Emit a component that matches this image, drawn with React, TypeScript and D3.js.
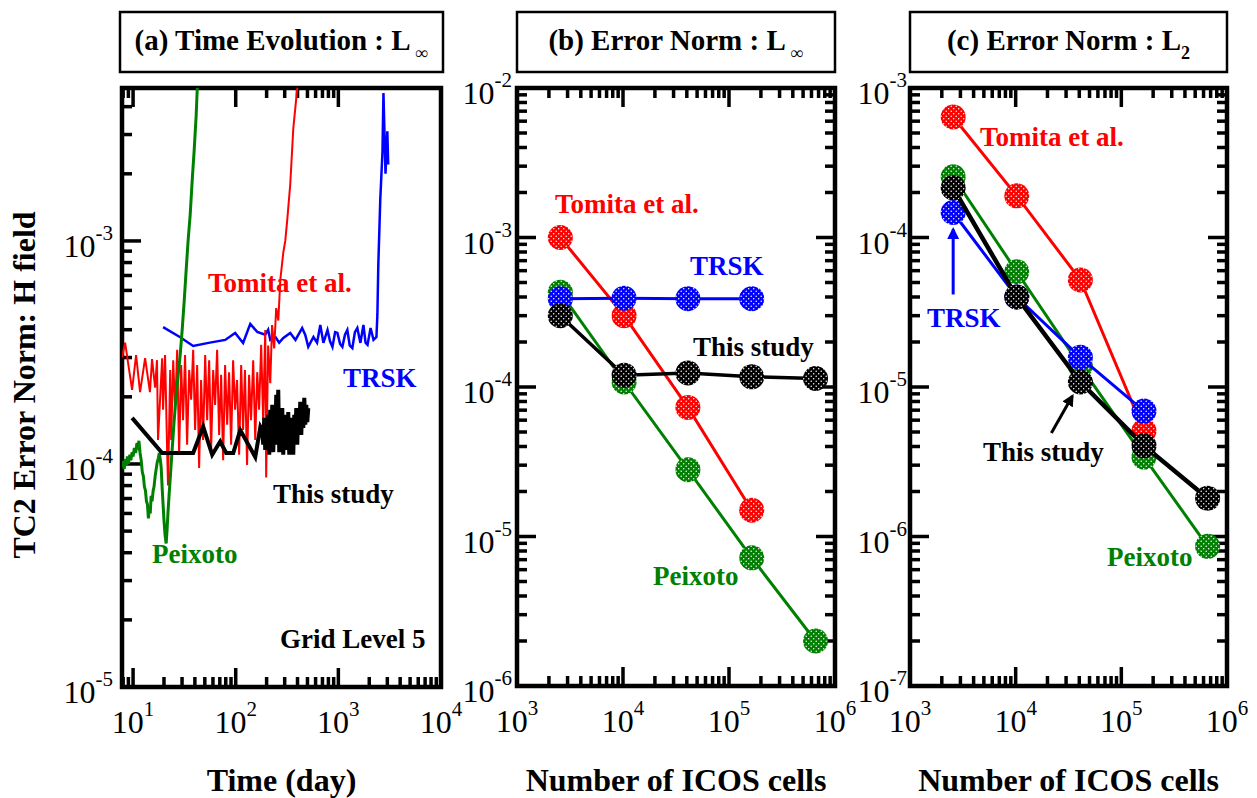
import { useEffect, useRef } from 'react';
import * as d3 from 'd3';

type Pt = [number, number];

const RED = '#ff0000';
const BLUE = '#0000ff';
const GREEN = '#008000';
const BLACK = '#000000';

// number of ICOS cells, grid levels 4-8
const icosCells = [2562, 10242, 40962, 163842, 655362];

// (b) L-infinity error norm
const linfTomita = [1.0e-3, 3.0e-4, 7.3e-5, 1.5e-5];
const linfTrsk = [3.9e-4, 3.93e-4, 3.9e-4, 3.9e-4];
const linfThis = [3.0e-4, 1.2e-4, 1.24e-4, 1.17e-4, 1.14e-4];
const linfPeixoto = [4.3e-4, 1.08e-4, 2.8e-5, 7.2e-6, 2.0e-6];

// (c) L2 error norm
const l2Tomita = [6.4e-4, 1.9e-4, 5.2e-5, 5.1e-6];
const l2Trsk = [1.47e-4, 4.0e-5, 1.58e-5, 6.9e-6];
const l2This = [2.15e-4, 4.0e-5, 1.08e-5, 4.05e-6, 1.8e-6];
const l2Peixoto = [2.55e-4, 5.9e-5, 1.38e-5, 3.4e-6, 8.6e-7];

// (a) time evolution at grid level 5, [day, L-inf error]
const peixotoTime: Pt[] = [
  [7.8, 9.7e-5], [8.0, 1.03e-4], [8.2, 9.5e-5], [8.4, 1.05e-4], [8.6, 9.8e-5], [8.8, 1.08e-4],
  [9.0, 1.0e-4], [9.3, 1.1e-4], [9.5, 1.04e-4], [9.8, 1.13e-4], [10.0, 1.08e-4], [10.3, 1.18e-4],
  [10.6, 1.12e-4], [10.9, 1.24e-4], [11.2, 1.2e-4], [11.4, 1.27e-4], [11.7, 1.12e-4], [12.0, 1.04e-4],
  [12.3, 9.2e-5], [12.6, 8.8e-5], [12.9, 7.9e-5], [13.2, 7.6e-5], [13.5, 6.8e-5], [13.8, 6.6e-5],
  [14.1, 5.7e-5], [14.4, 6.3e-5], [14.7, 6.0e-5], [15.0, 7.2e-5], [15.3, 6.8e-5], [15.7, 7.6e-5],
  [16.0, 7.9e-5], [16.4, 8.8e-5], [16.8, 9.5e-5], [17.2, 1.02e-4], [17.6, 1.06e-4], [18.0, 1.12e-4],
  [18.4, 1.05e-4], [18.8, 9.6e-5], [19.2, 7.8e-5], [19.6, 6.6e-5], [20.0, 5.6e-5], [20.5, 4.8e-5],
  [21.0, 4.4e-5], [21.4, 5.0e-5], [21.9, 6.1e-5], [22.5, 7.4e-5], [23.0, 8.6e-5], [24.0, 1.15e-4],
  [25.1, 1.55e-4], [26.3, 2.05e-4], [27.5, 2.5e-4], [28.8, 3.1e-4], [30.1, 4.0e-4], [31.5, 5.4e-4],
  [32.9, 7.4e-4], [34.4, 1.01e-3], [36.0, 1.31e-3], [37.7, 1.88e-3], [39.4, 2.56e-3], [41.2, 3.67e-3],
  [42.1, 4.7e-3], [43.1, 5.6e-3],
];

const tomitaTime: Pt[] = [
  [7.8, 3.0e-4], [8.36, 3.5e-4], [9.78, 2.15e-4], [10.7, 3.08e-4], [11.7, 2.1e-4], [13.1, 2.98e-4],
  [14.6, 2.1e-4], [15.3, 2.95e-4], [16.4, 2.2e-4], [17.1, 2.92e-4], [17.5, 1.28e-4], [19.2, 2.98e-4],
  [19.6, 1.75e-4], [20.5, 3.08e-4], [21.5, 1.12e-4], [21.9, 8.0e-5], [23.0, 2.64e-4],
  [23.5, 1.28e-4], [24.6, 2.92e-4], [25.7, 1.75e-4], [26.9, 3.25e-4], [28.1, 1.1e-4], [29.4, 2.78e-4],
  [30.7, 1.57e-4], [32.1, 3.08e-4], [33.6, 1.22e-4], [35.2, 2.64e-4], [36.8, 1.94e-4], [38.5, 3.25e-4],
  [40.2, 1.42e-4], [42.1, 2.78e-4], [44.0, 9.6e-5], [46.0, 2.38e-4], [48.1, 1.28e-4], [50.4, 3.08e-4],
  [52.7, 1.57e-4], [55.1, 2.92e-4], [57.6, 1.155e-4], [60.3, 2.64e-4], [63.0, 1.84e-4], [65.9, 3.25e-4],
  [68.9, 1.35e-4], [72.1, 2.51e-4], [75.4, 1.04e-4], [78.8, 2.78e-4], [82.5, 1.5e-4], [86.2, 2.58e-4],
  [90.2, 1.22e-4], [94.3, 2.92e-4], [98.6, 1.75e-4], [103, 2.38e-4], [108, 1.1e-4], [113, 2.78e-4],
  [118, 1.42e-4], [123, 2.64e-4], [129, 9.9e-5], [135, 2.51e-4], [141, 1.57e-4], [148, 2.92e-4],
  [155, 1.28e-4], [162, 2.58e-4], [169, 1.75e-4], [177, 3.42e-4], [185, 1.57e-4], [194, 3.99e-4],
  [198, 8.7e-5], [207, 3.4e-4], [217, 2.3e-4], [226, 4.2e-4], [237, 3.3e-4], [248, 5.0e-4],
  [260, 4.4e-4], [272, 6.7e-4], [291, 8.9e-4], [304, 1.0e-3], [318, 1.25e-3], [340, 1.8e-3],
  [364, 3.2e-3], [398, 4.85e-3], [426, 6.0e-3],
];

const trskTime: Pt[] = [
  [19.6, 4.11e-4], [28.8, 3.7e-4], [38.5, 3.38e-4], [56, 3.5e-4], [79, 3.6e-4], [98.8, 3.87e-4],
  [118, 3.49e-4], [138.6, 4.25e-4], [162, 3.91e-4], [194, 3.8e-4], [207, 4.0e-4], [217, 3.6e-4],
  [245, 3.7e-4], [265, 3.5e-4], [291, 3.67e-4], [340, 3.87e-4], [382, 3.6e-4], [444, 4.07e-4],
  [476, 3.79e-4], [509, 3.35e-4], [572, 3.71e-4], [620, 3.5e-4], [667, 4.2e-4], [715, 3.49e-4],
  [784, 3.99e-4], [830, 3.55e-4], [876, 3.35e-4], [930, 3.9e-4], [979, 3.87e-4], [1040, 3.45e-4],
  [1094, 3.35e-4], [1160, 3.8e-4], [1223, 3.99e-4], [1290, 3.4e-4], [1368, 3.31e-4], [1450, 3.9e-4],
  [1530, 4.07e-4], [1640, 3.49e-4], [1755, 4.2e-4], [1840, 3.5e-4], [1924, 3.42e-4], [2060, 4.07e-4],
  [2200, 3.6e-4], [2350, 3.71e-4], [2400, 4.66e-4], [2450, 7.8e-4], [2560, 1.53e-3], [2690, 2.51e-3],
  [2750, 4.6e-3], [2880, 2.0e-3], [3000, 3.1e-3], [3060, 2.2e-3],
];

const thisTime: Pt[] = [
  [9.78, 1.61e-4], [19.2, 1.12e-4], [38.5, 1.12e-4], [48.2, 1.47e-4], [59.0, 1.1e-4], [70.6, 1.26e-4],
  [80.8, 1.12e-4], [94.6, 1.12e-4], [110.7, 1.42e-4], [155, 1.075e-4], [174, 1.47e-4],
  [181.3, 1.42e-4], [185.4, 1.22e-4], [189.6, 1.61e-4], [193.9, 1.155e-4], [198.3, 1.5e-4],
  [202.8, 1.24e-4], [207.4, 1.66e-4], [212.1, 1.1e-4], [216.9, 1.75e-4], [221.9, 1.18e-4],
  [226.9, 1.84e-4], [232.1, 1.13e-4], [237.3, 1.57e-4], [242.7, 1.22e-4], [248.2, 2.04e-4],
  [253.9, 1.28e-4], [259.6, 2.15e-4], [265.5, 1.13e-4], [271.6, 1.66e-4], [277.7, 1.19e-4],
  [284.0, 1.78e-4], [290.5, 1.1e-4], [297.1, 1.57e-4], [303.8, 1.155e-4], [310.7, 1.66e-4],
  [317.8, 1.22e-4], [325.0, 1.71e-4], [332.4, 1.1e-4], [339.9, 1.61e-4], [347.6, 1.19e-4],
  [355.5, 1.57e-4], [363.6, 1.1e-4], [371.9, 1.66e-4], [380.3, 1.28e-4], [389.0, 1.78e-4],
  [397.8, 1.22e-4], [406.8, 1.75e-4], [416.1, 1.42e-4], [425.5, 1.9e-4], [435.2, 1.35e-4],
  [445.0, 1.84e-4], [455.2, 1.45e-4], [465.5, 1.98e-4], [476.1, 1.5e-4], [486.9, 1.84e-4],
  [498.0, 1.54e-4], [509.3, 1.78e-4],
];

// tick label exponents
const timeTickExps = [1, 2, 3, 4];
const cellTickExps = [3, 4, 5, 6];
const errTickExpsA = [-5, -4, -3];
const errTickExpsB = [-6, -5, -4, -3, -2];
const errTickExpsC = [-7, -6, -5, -4, -3];

const FONT = "'Liberation Serif', 'Times New Roman', serif";

const logTicks = (lo: number, hi: number) => {
  const major: number[] = [];
  const minor: number[] = [];
  for (let k = Math.floor(Math.log10(lo)); k <= Math.ceil(Math.log10(hi)); k++) {
    for (let j = 1; j <= 9; j++) {
      const v = j * Math.pow(10, k);
      if (v < lo * 0.999 || v > hi * 1.001) continue;
      (j === 1 ? major : minor).push(v);
    }
  }
  return { major, minor };
};

const App = () => {
  const ref = useRef<SVGSVGElement>(null);

  useEffect(() => {
    const svg = d3.select(ref.current);
    svg.selectAll('*').remove();

    const defs = svg.append('defs');
    [['red', RED], ['blue', BLUE], ['green', GREEN], ['black', BLACK]].forEach(([name, c]) => {
      const p = defs.append('pattern')
        .attr('id', `dots-${name}`)
        .attr('patternUnits', 'userSpaceOnUse')
        .attr('width', 5).attr('height', 5);
      p.append('rect').attr('width', 5).attr('height', 5).attr('fill', c);
      p.append('circle').attr('cx', 1.2).attr('cy', 1.2).attr('r', 0.75).attr('fill', '#fff');
      p.append('circle').attr('cx', 3.7).attr('cy', 3.7).attr('r', 0.75).attr('fill', '#fff');
    });
    [['blue', BLUE], ['black', BLACK]].forEach(([name, c]) => {
      defs.append('marker')
        .attr('id', `arrow-${name}`)
        .attr('viewBox', '0 0 10 10')
        .attr('refX', 8).attr('refY', 5)
        .attr('markerUnits', 'userSpaceOnUse')
        .attr('markerWidth', 12).attr('markerHeight', 12)
        .attr('orient', 'auto')
        .append('path').attr('d', 'M0,0 L10,5 L0,10 Z').attr('fill', c);
    });

    const label = (x: number, y: number, txt: string, color: string, anchor = 'start') =>
      svg.append('text')
        .attr('x', x).attr('y', y)
        .attr('text-anchor', anchor)
        .attr('font-family', FONT).attr('font-weight', 'bold').attr('font-size', 27)
        .attr('fill', color)
        .text(txt);

    const panel = (o: {
      x0: number; x1: number; y0: number; y1: number;
      xDom: number[]; yDom: number[];
      xExps: number[]; yExps: number[]; labelGap: number;
      topFilter?: (v: number) => boolean; right: boolean;
    }) => {
      const x = d3.scaleLog().domain(o.xDom).range([o.x0, o.x1]);
      const y = d3.scaleLog().domain(o.yDom).range([o.y1, o.y0]);
      const g = svg.append('g');
      const xt = logTicks(o.xDom[0], o.xDom[1]);
      const yt = logTicks(o.yDom[0], o.yDom[1]);
      const tick = (x1: number, y1: number, x2: number, y2: number) =>
        g.append('line').attr('x1', x1).attr('y1', y1).attr('x2', x2).attr('y2', y2)
          .attr('stroke', BLACK).attr('stroke-width', 3.5);
      const MAJ = 19, MIN = 10;
      [...xt.major.map(v => [v, MAJ]), ...xt.minor.map(v => [v, MIN])].forEach(([v, len]) => {
        tick(x(v), o.y1, x(v), o.y1 - len);
        if (!o.topFilter || o.topFilter(v)) tick(x(v), o.y0, x(v), o.y0 + len);
      });
      [...yt.major.map(v => [v, MAJ]), ...yt.minor.map(v => [v, MIN])].forEach(([v, len]) => {
        tick(o.x0, y(v), o.x0 + len, y(v));
        if (o.right) tick(o.x1, y(v), o.x1 - len, y(v));
      });
      g.append('rect')
        .attr('x', o.x0).attr('y', o.y0)
        .attr('width', o.x1 - o.x0).attr('height', o.y1 - o.y0)
        .attr('fill', 'none').attr('stroke', BLACK).attr('stroke-width', 4.5);

      o.xExps.forEach(e => {
        const t = g.append('text')
          .attr('x', x(Math.pow(10, e))).attr('y', o.y1 + 46)
          .attr('text-anchor', 'middle')
          .attr('font-family', FONT).attr('font-size', 32).text('10');
        t.append('tspan').attr('dy', -17).attr('font-size', 21).text(String(e));
      });
      o.yExps.forEach(e => {
        const t = g.append('text')
          .attr('x', o.x0 - o.labelGap).attr('y', y(Math.pow(10, e)) + 16)
          .attr('text-anchor', 'end')
          .attr('font-family', FONT).attr('font-size', 32).text('10');
        t.append('tspan').attr('dy', -17).attr('font-size', 21).text(String(e));
      });
      return { x, y };
    };

    const title = (x0: number, x1: number, main: string, sub: string, gap: number) => {
      svg.append('rect')
        .attr('x', x0).attr('y', 12).attr('width', x1 - x0).attr('height', 60)
        .attr('fill', 'none').attr('stroke', BLACK).attr('stroke-width', 2.5);
      const t = svg.append('text')
        .attr('x', (x0 + x1) / 2).attr('y', 50)
        .attr('text-anchor', 'middle')
        .attr('font-family', FONT).attr('font-weight', 'bold').attr('font-size', 29)
        .text(main);
      t.append('tspan').attr('dx', gap).attr('dy', 9).attr('font-size', 18).text(sub);
    };

    const cellSeries = (p: { x: any; y: any }, vals: number[], color: string, name: string, width: number) => {
      const pts: Pt[] = vals.map((v, i) => [icosCells[i], v]);
      svg.append('path')
        .datum(pts)
        .attr('fill', 'none').attr('stroke', color).attr('stroke-width', width)
        .attr('d', d3.line<Pt>().x(d => p.x(d[0])).y(d => p.y(d[1])));
      svg.selectAll(null)
        .data(pts).enter().append('circle')
        .attr('cx', d => p.x(d[0])).attr('cy', d => p.y(d[1]))
        .attr('r', 12.5)
        .attr('fill', `url(#dots-${name})`);
    };

    // ---------- (a) time evolution ----------
    title(120, 443, '(a) Time Evolution : L', '\u221e', 5);
    const pa = panel({
      x0: 122, x1: 441, y0: 88, y1: 687,
      xDom: [7.8, 1e4], yDom: [1e-5, 4.85e-3],
      xExps: timeTickExps, yExps: errTickExpsA, labelGap: 9,
      topFilter: v => v <= 10 || (v >= 100 && v <= 1000), right: false,
    });
    defs.append('clipPath').attr('id', 'clip-a')
      .append('rect').attr('x', 122).attr('y', 88).attr('width', 319).attr('height', 599);
    const lineA = d3.line<Pt>().x(d => pa.x(d[0])).y(d => pa.y(d[1]));
    const ga = svg.append('g').attr('clip-path', 'url(#clip-a)');
    ([[trskTime, BLUE, 2.5], [tomitaTime, RED, 2], [peixotoTime, GREEN, 3], [thisTime, BLACK, 4]] as [Pt[], string, number][])
      .forEach(([data, c, w]) => {
        ga.append('path').datum(data)
          .attr('fill', 'none').attr('stroke', c).attr('stroke-width', w)
          .attr('stroke-linejoin', 'miter').attr('d', lineA);
      });
    label(208, 292, 'Tomita et al.', RED);
    label(343, 387, 'TRSK', BLUE);
    label(273, 503, 'This study', BLACK);
    label(152, 563, 'Peixoto', GREEN);
    label(280, 648, 'Grid Level 5', BLACK);

    // ---------- (b) L-inf ----------
    title(517, 835, '(b) Error Norm : L', '\u221e', 5);
    const pb = panel({
      x0: 517, x1: 835, y0: 88, y1: 686,
      xDom: [1e3, 1e6], yDom: [1e-6, 1e-2],
      xExps: cellTickExps, yExps: errTickExpsB, labelGap: 5, right: true,
    });
    cellSeries(pb, linfTomita, RED, 'red', 3);
    cellSeries(pb, linfPeixoto, GREEN, 'green', 3);
    cellSeries(pb, linfTrsk, BLUE, 'blue', 3);
    cellSeries(pb, linfThis, BLACK, 'black', 3.5);
    label(555, 213, 'Tomita et al.', RED);
    label(690, 275, 'TRSK', BLUE);
    label(693, 356, 'This study', BLACK);
    label(653, 585, 'Peixoto', GREEN);

    // ---------- (c) L2 ----------
    title(910, 1227, '(c) Error Norm : L', '2', 0);
    const pc = panel({
      x0: 910, x1: 1227, y0: 88, y1: 686,
      xDom: [1e3, 1e6], yDom: [1e-7, 1e-3],
      xExps: cellTickExps, yExps: errTickExpsC, labelGap: 3, right: true,
    });
    cellSeries(pc, l2Tomita, RED, 'red', 3);
    cellSeries(pc, l2Peixoto, GREEN, 'green', 3);
    cellSeries(pc, l2Trsk, BLUE, 'blue', 3);
    cellSeries(pc, l2This, BLACK, 'black', 4.5);
    label(980, 146, 'Tomita et al.', RED);
    label(927, 327, 'TRSK', BLUE);
    label(983, 461, 'This study', BLACK);
    label(1107, 566, 'Peixoto', GREEN);

    // arrows pointing at markers
    const bx = pc.x(icosCells[0]), by = pc.y(l2Trsk[0]);
    svg.append('line')
      .attr('x1', bx).attr('y1', by + 82).attr('x2', bx).attr('y2', by + 17)
      .attr('stroke', BLUE).attr('stroke-width', 3).attr('marker-end', 'url(#arrow-blue)');
    const kx = pc.x(icosCells[2]), ky = pc.y(l2This[2]);
    svg.append('line')
      .attr('x1', kx - 29).attr('y1', ky + 51).attr('x2', kx - 8).attr('y2', ky + 14)
      .attr('stroke', BLACK).attr('stroke-width', 3).attr('marker-end', 'url(#arrow-black)');

    // axis titles
    svg.append('text')
      .attr('transform', 'translate(35,385) rotate(-90)')
      .attr('text-anchor', 'middle')
      .attr('font-family', FONT).attr('font-weight', 'bold').attr('font-size', 32)
      .text('TC2 Error Norm: H field');
    [[281.5, 'Time (day)'], [676, 'Number of ICOS cells'], [1068.5, 'Number of ICOS cells']].forEach(([cx, txt]) => {
      svg.append('text')
        .attr('x', cx as number).attr('y', 791)
        .attr('text-anchor', 'middle')
        .attr('font-family', FONT).attr('font-weight', 'bold').attr('font-size', 32)
        .text(txt as string);
    });
  }, []);

  return (
    <svg
      ref={ref}
      width={1257}
      height={798}
      style={{ position: 'absolute', left: 0, top: 0, background: '#fff' }}
    />
  );
};

export default App;
